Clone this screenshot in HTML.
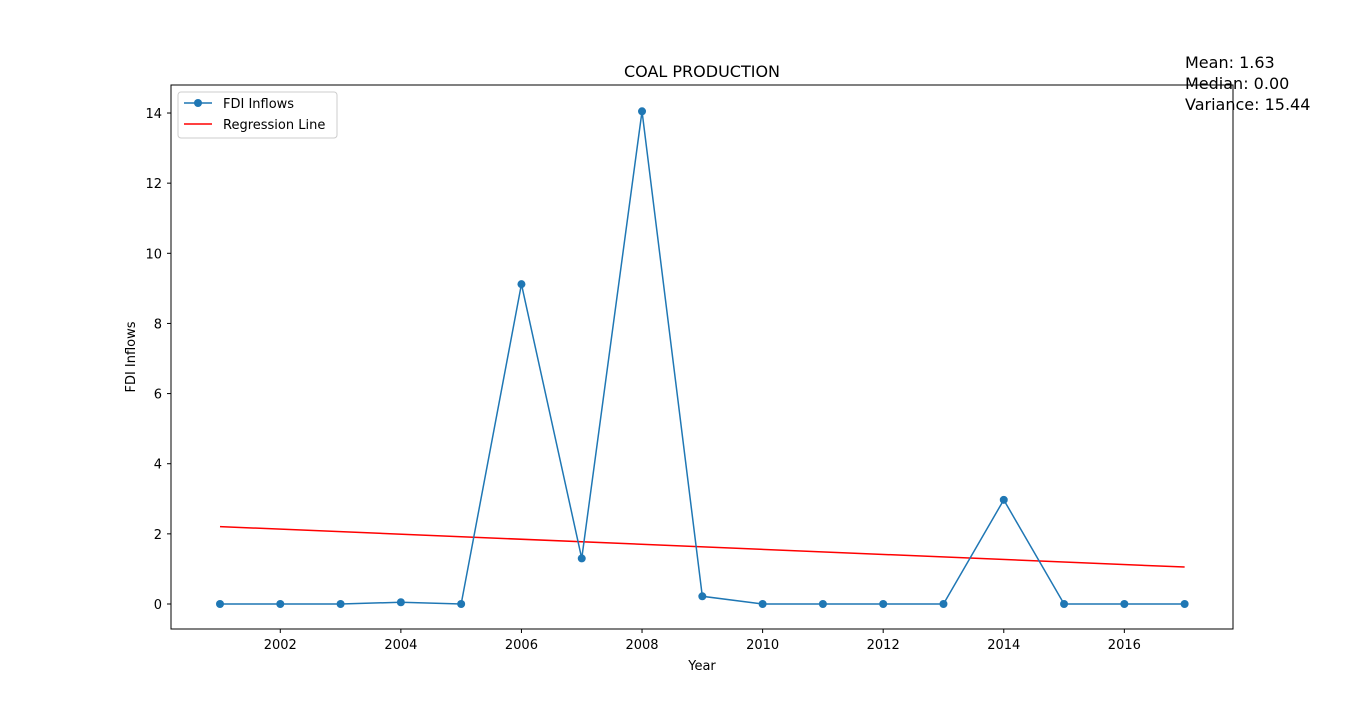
<!DOCTYPE html>
<html><head><meta charset="utf-8"><style>
body{margin:0;background:#fff;}
svg text{font-family:"DejaVu Sans","Liberation Sans",sans-serif;}
</style></head><body>
<svg id="chart" width="1370" height="707" xmlns="http://www.w3.org/2000/svg">
<rect width="1370" height="707" fill="#fff"/>
<text x="702" y="77" font-size="16" text-anchor="middle">COAL PRODUCTION</text>
<text x="1185" y="68" font-size="16">Mean: 1.63</text>
<text x="1185" y="89" font-size="16">Median: 0.00</text>
<text x="1185" y="110" font-size="16">Variance: 15.44</text>
<g id="ticks"></g>
<g id="marks"></g>
<rect x="171" y="85" width="1062" height="544" fill="none" stroke="#000" stroke-width="1"/>
<text x="702" y="670" font-size="13" text-anchor="middle">Year</text>
<text transform="translate(135,357) rotate(-90)" font-size="13" text-anchor="middle">FDI Inflows</text>
<g>
<rect x="178" y="92" width="159" height="46" rx="3" fill="#fff" stroke="#ccc"/>
<line x1="184" y1="103" x2="212" y2="103" stroke="#1f77b4" stroke-width="1.5"/>
<circle cx="198" cy="103" r="4" fill="#1f77b4"/>
<text x="223" y="108" font-size="13">FDI Inflows</text>
<line x1="184" y1="124" x2="212" y2="124" stroke="red" stroke-width="1.5"/>
<text x="223" y="129" font-size="13">Regression Line</text>
</g>
</svg>
<script>
const years=[2001,2002,2003,2004,2005,2006,2007,2008,2009,2010,2011,2012,2013,2014,2015,2016,2017];
const fdi=[0,0,0,0.05,0,9.12,1.3,14.05,0.22,0,0,0,0,2.97,0,0,0];
const xTicks=[2002,2004,2006,2008,2010,2012,2014,2016];
const yTicks=[0,2,4,6,8,10,12,14];
const NS="http://www.w3.org/2000/svg";
const x=v=>220+(v-2001)*60.29;
const y=v=>604-v*35.07;
function mk(t,a,p){const e=document.createElementNS(NS,t);for(const k in a)e.setAttribute(k,a[k]);p.appendChild(e);return e;}
const tg=document.getElementById('ticks'),mg=document.getElementById('marks');
xTicks.forEach(v=>{
 const l=mk('line',{x1:x(v),x2:x(v),y1:629,y2:633,stroke:'#000'},tg);
 
 
 const t=mk('text',{x:x(v),y:649,'font-size':13,'text-anchor':'middle'},tg);t.textContent=v;
 
 
});
yTicks.forEach(v=>{
 const l=mk('line',{x1:167,x2:171,y1:y(v),y2:y(v),stroke:'#000'},tg);
 
 
 const t=mk('text',{x:162,y:y(v)+5,'font-size':13,'text-anchor':'end'},tg);t.textContent=v;
 
 
});
// regression
const n=years.length,mx=years.reduce((a,b)=>a+b)/n,my=fdi.reduce((a,b)=>a+b)/n;
let sxy=0,sxx=0;years.forEach((v,i)=>{sxy+=(v-mx)*(fdi[i]-my);sxx+=(v-mx)**2;});
const b=sxy/sxx,a=my-b*mx;
const x0=years[0],x1=years[n-1];
const reg=mk('line',{x1:x(x0),y1:y(a+b*x0),x2:x(x1),y2:y(a+b*x1),stroke:'red','stroke-width':1.5},mg);


const pl=mk('polyline',{points:years.map((v,i)=>x(v)+','+y(fdi[i])).join(' '),fill:'none',stroke:'#1f77b4','stroke-width':1.5},mg);


years.forEach((v,i)=>{
 const c=mk('circle',{cx:x(v),cy:y(fdi[i]),r:4,fill:'#1f77b4'},mg);
 
 
});
</script>
</body></html>
